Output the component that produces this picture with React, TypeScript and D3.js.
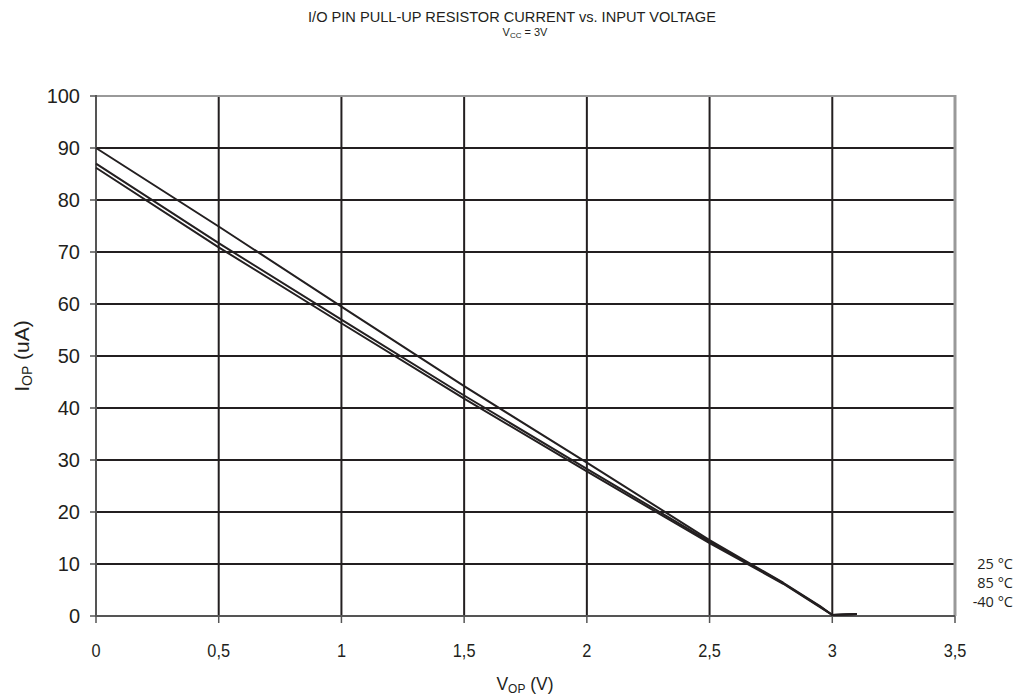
import React from "react";
import * as d3 from "d3";

const volts = [0, 0.5, 1, 1.5, 2, 2.5, 2.8, 2.95, 3.0, 3.05, 3.1];
const t25 = [90, 74.9, 59.5, 44.2, 29.5, 14.6, 6.4, 1.9, 0.2, 0.3, 0.4];
const t85 = [87, 71.7, 57, 42.4, 28.3, 14.3, 6.3, 1.8, 0.2, 0.3, 0.4];
const tm40 = [86.2, 70.9, 56.3, 41.8, 27.8, 14.0, 6.2, 1.7, 0.2, 0.3, 0.4];
const seriesLabels = ["25 °C", "85 °C", "-40 °C"];
const xTicks = [0, 0.5, 1, 1.5, 2, 2.5, 3, 3.5];
const yTicks = [0, 10, 20, 30, 40, 50, 60, 70, 80, 90, 100];

export default function App() {
  const W = 1016, H = 698;
  const left = 96, right = 955, top = 96, bottom = 616;
  const x = d3.scaleLinear().domain([0, 3.5]).range([left, right]);
  const y = d3.scaleLinear().domain([0, 100]).range([bottom, top]);
  const line = d3.line<number>().x((_, i) => x(volts[i])).y((d) => y(d));
  const fmt = (v: number) => String(v).replace(".", ",");
  const font = "Liberation Sans, Arial, sans-serif";
  const ink = "#231f20";
  return (
    <svg width={W} height={H} style={{ position: "absolute", left: 0, top: 0, background: "#fff" }}>
      <text x={512} y={22} textAnchor="middle" fontFamily={font} fontSize={14.6} fill={ink}>
        I/O PIN PULL-UP RESISTOR CURRENT vs. INPUT VOLTAGE
      </text>
      <text x={525} y={36} textAnchor="middle" fontFamily={font} fontSize={11} fill={ink}>
        V<tspan fontSize={8} dy={2}>CC</tspan><tspan dy={-2}> = 3V</tspan>
      </text>
      {/* grid */}
      {yTicks.filter((t) => t > 0 && t < 100).map((t) => (
        <line key={"h" + t} x1={left} x2={right} y1={y(t)} y2={y(t)} stroke={ink} strokeWidth={2} />
      ))}
      {xTicks.filter((t) => t > 0 && t < 3.5).map((t) => (
        <line key={"v" + t} x1={x(t)} x2={x(t)} y1={top} y2={bottom} stroke={ink} strokeWidth={2} />
      ))}
      {/* frame */}
      <line x1={left} x2={right} y1={top} y2={top} stroke="#999" strokeWidth={2} />
      <line x1={right} x2={right} y1={top - 1} y2={bottom} stroke="#999" strokeWidth={3} />
      <line x1={left} x2={left} y1={top - 1} y2={bottom + 1} stroke="#555" strokeWidth={2} />
      <line x1={left} x2={right} y1={bottom} y2={bottom} stroke="#555" strokeWidth={2} />
      {/* ticks */}
      {yTicks.map((t) => (
        <g key={"yt" + t}>
          <line x1={left - 6} x2={left} y1={y(t)} y2={y(t)} stroke="#555" strokeWidth={1.5} />
          <text x={80} y={y(t) + 7} textAnchor="end" fontFamily={font} fontSize={20} fill={ink}>{t}</text>
        </g>
      ))}
      {xTicks.map((t) => (
        <g key={"xt" + t}>
          <line x1={x(t)} x2={x(t)} y1={bottom} y2={bottom + 7} stroke="#555" strokeWidth={1.5} />
          <text transform={`translate(${x(t)},657) scale(0.86,1)`} textAnchor="middle" fontFamily={font} fontSize={19} fill={ink}>{fmt(t)}</text>
        </g>
      ))}
      {/* series */}
      {[t25, t85, tm40].map((s, i) => (
        <path key={"s" + i} d={line(s) || ""} fill="none" stroke={ink} strokeWidth={2} strokeLinejoin="round" />
      ))}
      {seriesLabels.map((l, i) => (
        <text key={l} x={1013} y={569 + i * 19} textAnchor="end" fontFamily="Open Sans, sans-serif" fontSize={14.5} fill={ink}>{l}</text>
      ))}
      {/* axis titles */}
      <text transform="translate(525,690) scale(0.92,1)" textAnchor="middle" fontFamily={font} fontSize={19} fill={ink}>
        V<tspan fontSize={13} dy={3}>OP</tspan><tspan dy={-3}> (V)</tspan>
      </text>
      <text transform={`translate(29,356) rotate(-90)`} textAnchor="middle" fontFamily={font} fontSize={21} fill={ink}>
        I<tspan fontSize={14} dy={3}>OP</tspan><tspan dy={-3}> (uA)</tspan>
      </text>
    </svg>
  );
}
